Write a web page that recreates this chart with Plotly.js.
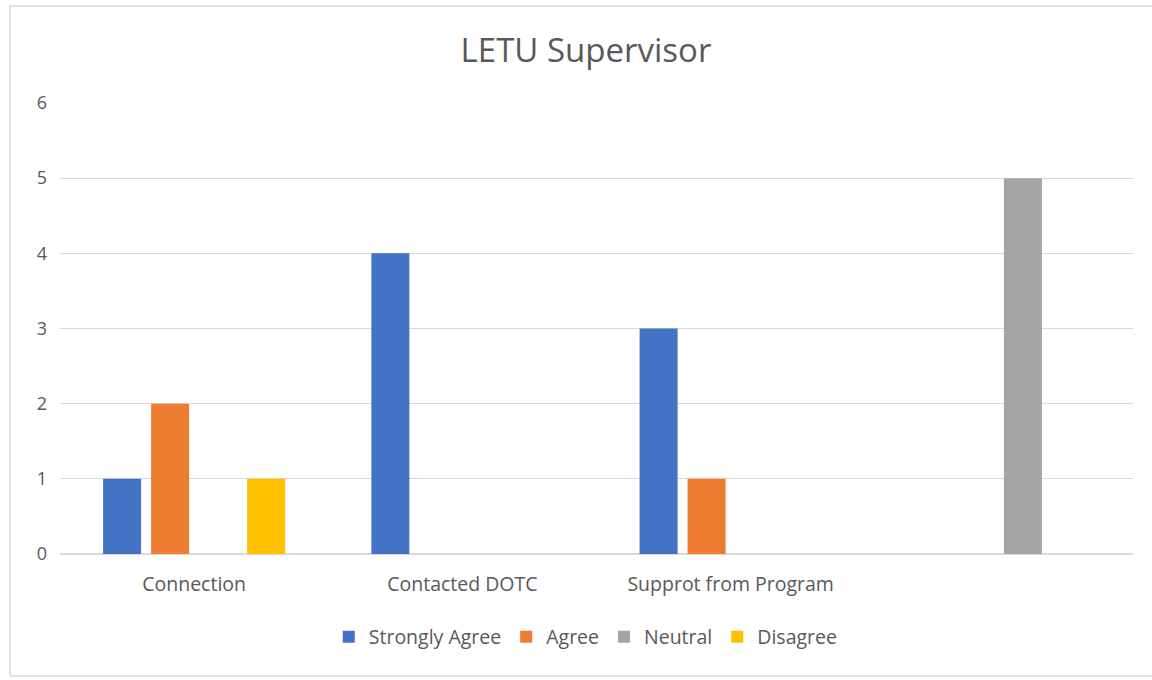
<!DOCTYPE html>
<html>
<head>
<meta charset="utf-8">
<script src="https://cdn.plot.ly/plotly-3.0.1.min.js"></script>
<style>
  html, body { margin: 0; padding: 0; background: #fff; }
  #chart { width: 1152px; height: 680px; }
</style>
</head>
<body>
<div id="chart"></div>
<script>
const categories = ["Connection", "Contacted DOTC", "Supprot from Program", " "];
const stronglyAgree = [1, 4, 3, 0];
const agree = [2, 0, 1, 0];
const neutral = [0, 0, 0, 5];
const disagree = [1, 0, 0, 0];
const seriesNames = ["Strongly Agree", "Agree", "Neutral", "Disagree"];
const seriesColors = ["#4472C4", "#ED7D31", "#A5A5A5", "#FFC000"];
const yTicks = [0, 1, 2, 3, 4, 5, 6];

const seriesValues = [stronglyAgree, agree, neutral, disagree];
const textColor = "#595959";
const fontFamily = "'Open Sans', Calibri, sans-serif";

const traces = seriesValues.map((vals, i) => ({
  type: "bar",
  name: seriesNames[i],
  x: categories,
  y: vals,
  marker: { color: seriesColors[i], line: { width: 0 } },
  hoverinfo: "skip"
}));

const W = 1152, H = 680;
const m = { l: 60, r: 19, t: 103, b: 126 };
const pw = W - m.l - m.r, ph = H - m.t - m.b;
const px = v => (v - m.l) / pw;
const py = v => (H - m.b - v) / ph;

const layout = {
  width: W, height: H,
  margin: m,
  paper_bgcolor: "#ffffff",
  plot_bgcolor: "#ffffff",
  font: { family: fontFamily, color: textColor, size: 19 },
  title: {
    text: "LETU Supervisor",
    font: { family: fontFamily, size: 33, color: textColor },
    x: 586 / W, xanchor: "center", xref: "container",
    y: 1 - 50 / H, yanchor: "middle", yref: "container"
  },
  barmode: "group",
  bargap: 0.284,
  bargroupgap: 0.208,
  showlegend: true,
  legend: {
    orientation: "h",
    x: 0.49, xanchor: "center",
    y: py(637), yanchor: "middle",
    font: { family: fontFamily, size: 19.5, color: textColor },
    traceorder: "normal",
    itemwidth: 30
  },
  xaxis: {
    type: "category",
    showgrid: false,
    showline: false,
    zeroline: false,
    ticks: "",
    ticklabelstandoff: 16,
    tickfont: { family: fontFamily, size: 19.5, color: textColor },
    fixedrange: true
  },
  yaxis: {
    range: [0, 6],
    tickvals: yTicks,
    ticktext: yTicks.map(String),
    showgrid: true,
    gridcolor: "#d9d9d9",
    gridwidth: 1.3,
    zeroline: true,
    zerolinecolor: "#d9d9d9",
    zerolinewidth: 1.3,
    showline: false,
    ticks: "",
    ticklabelstandoff: 12,
    tickfont: { family: fontFamily, size: 18, color: textColor },
    fixedrange: true
  },
  shapes: [{
    type: "rect",
    xref: "paper", yref: "paper",
    x0: px(10), x1: px(1160),
    y0: py(676), y1: py(6),
    line: { color: "#d9d9d9", width: 1.5 },
    fillcolor: "rgba(0,0,0,0)",
    layer: "below"
  }]
};

Plotly.newPlot("chart", traces, layout, { displayModeBar: false, staticPlot: true });
</script>
</body>
</html>
